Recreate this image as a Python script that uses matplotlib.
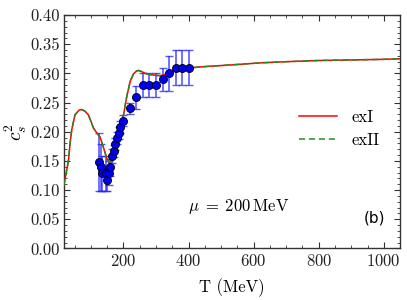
import matplotlib
matplotlib.use("Agg")
import matplotlib.pyplot as plt
from matplotlib.ticker import MultipleLocator

plt.rcParams['font.family'] = 'serif'
plt.rcParams['font.serif'] = ['cmr10']
plt.rcParams['mathtext.fontset'] = 'cm'
plt.rcParams['axes.formatter.use_mathtext'] = True

# model curves
T_curve = [17, 20, 26, 31, 36, 41, 51, 64, 72, 82, 92, 100, 108, 118, 128, 138, 149,
           157, 163, 169, 180, 190, 200, 210, 221, 231, 240, 246, 256, 267, 280, 292,
           313, 334, 350, 364, 390, 416, 460, 519, 621, 700, 800, 900, 1000, 1050]
c_exI = [0.108, 0.118, 0.135, 0.151, 0.180, 0.203, 0.229, 0.237, 0.238, 0.235, 0.229,
         0.218, 0.206, 0.198, 0.191, 0.174, 0.154, 0.147, 0.150, 0.157, 0.174, 0.197,
         0.228, 0.260, 0.287, 0.299, 0.304, 0.305, 0.303, 0.300, 0.298, 0.297, 0.296,
         0.299, 0.303, 0.306, 0.308, 0.310, 0.312, 0.314, 0.318, 0.320, 0.322, 0.323,
         0.324, 0.325]
c_exII = list(c_exI)

# lattice data points
T_data = [125, 130, 135, 145, 150, 155, 160, 165, 170, 175, 180, 185, 190, 199,
          220, 240, 260, 280, 300, 320, 340, 360, 380, 400]
c_data = [0.148, 0.139, 0.129, 0.129, 0.118, 0.129, 0.139, 0.158, 0.167, 0.179,
          0.189, 0.198, 0.208, 0.219, 0.240, 0.259, 0.280, 0.280, 0.280, 0.290,
          0.300, 0.310, 0.310, 0.310]
c_err = [0.05, 0.04, 0.03, 0.03, 0.02, 0.02, 0.015, 0.012, 0.01, 0.01, 0.01, 0.01,
         0.01, 0.01, 0.01, 0.02, 0.02, 0.02, 0.02, 0.02, 0.03, 0.03, 0.03, 0.03]

fig = plt.figure(figsize=(4.07, 3.0), dpi=100)
ax = fig.add_axes([0.157, 0.172, 0.826, 0.778])

ax.errorbar(T_data, c_data, yerr=c_err, fmt='none', ecolor='#2222ff', alpha=0.75,
            elinewidth=1.2, capsize=3, capthick=1.0, zorder=2)
ax.plot(T_curve, c_exI, color='red', lw=1.1, label='exI', zorder=3)
ax.plot(T_curve, c_exII, color='#228b22', lw=1.1, ls=(0, (4, 2.5)), label='exII', zorder=4)
ax.plot(T_data, c_data, 'o', color='#0000ee', mec='black', mew=0.6, ms=5.8, zorder=5)

ax.set_xlim(17, 1050)
ax.set_ylim(0, 0.40)
ax.xaxis.set_major_locator(MultipleLocator(200))
ax.xaxis.set_minor_locator(MultipleLocator(50))
ax.yaxis.set_major_locator(MultipleLocator(0.05))
ax.yaxis.set_minor_locator(MultipleLocator(0.01))
ax.yaxis.set_major_formatter(matplotlib.ticker.FormatStrFormatter('%.2f'))
ax.tick_params(which='both', direction='in', top=True, right=True, labelsize=12,
               color='#333333', labelcolor='#222222')
ax.tick_params(which='major', length=4, width=0.8, pad=3)
ax.tick_params(which='minor', length=2, width=0.6)
for s in ax.spines.values():
    s.set_color('#333333')
    s.set_linewidth(1.0)

ax.set_xlabel('T (MeV)', fontsize=12, labelpad=7)
ax.set_ylabel(r'$c_s^2$', fontsize=14, labelpad=1)

ax.legend(loc='upper right', bbox_to_anchor=(0.985, 0.66), frameon=False, fontsize=12,
          handlelength=2.3, handletextpad=0.9, labelspacing=0.5)
ax.text(0.37, 0.16, r'$\mu \;=\; 200\,\mathrm{MeV}$', transform=ax.transAxes, fontsize=12)
ax.text(0.955, 0.11, '(b)', transform=ax.transAxes, fontsize=11, family='DejaVu Sans',
        ha='right')

fig.savefig('out.png', dpi=100)
